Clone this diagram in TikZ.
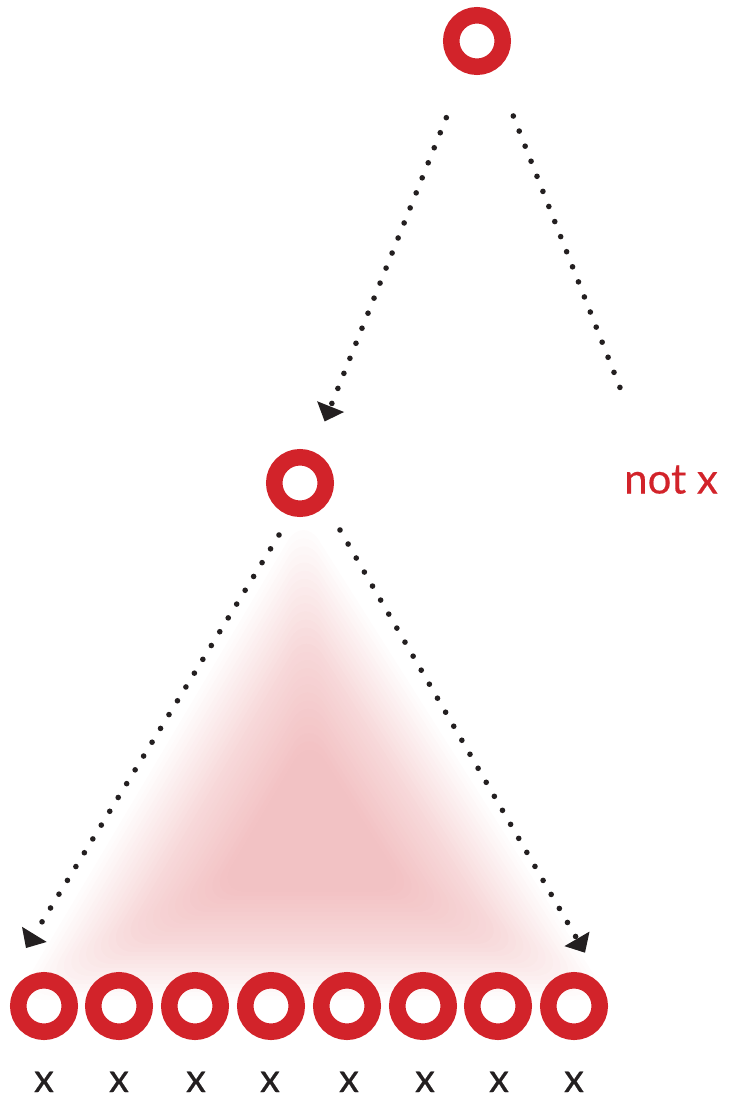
\documentclass[tikz,border=0pt]{standalone}
\usepackage{fontspec}
\setmainfont{Lato}[FakeBold=0.4]
\usetikzlibrary{arrows.meta,calc}
\definecolor{ringred}{HTML}{D2232A}
\definecolor{inkblack}{HTML}{231F20}
\begin{document}
\begin{tikzpicture}[x=1pt,y=-1pt,
  ring/.style={circle,draw=ringred,line width=16.5pt,minimum size=51.5pt,inner sep=0pt,outer sep=0pt},
  dotline/.style={draw=inkblack,line width=5.6pt,line cap=round,dash pattern=on 0pt off 16.2pt},
  arrowend/.style={-{Triangle[length=16pt,width=29pt,line width=0pt]}},
  lbl/.style={font=\fontsize{40}{40}\selectfont,text=inkblack,anchor=base,inner sep=0pt}]
\useasboundingbox (0,0) rectangle (730,1103);
% soft pink triangle
\coordinate (G) at (312,840);
\coordinate (TA) at (303,515);
\coordinate (TB) at (15,1000);
\coordinate (TC) at (610,1000);
\foreach \k in {0,...,27}{
  \pgfmathsetmacro\s{1-\k*0.025}
  \fill[ringred,fill opacity=0.013,rounded corners=30pt] ($(G)!\s!(TA)$) -- ($(G)!\s!(TB)$) -- ($(G)!\s!(TC)$) -- cycle;
}
% nodes
\node[ring] (top) at (477,41) {};
\node[ring] (mid) at (300,483) {};
\node[ring] (b1) at (44,1006) {};
\node[ring] (b2) at (119,1006) {};
\node[ring] (b3) at (195,1006) {};
\node[ring] (b4) at (271,1006) {};
\node[ring] (b5) at (347,1006) {};
\node[ring] (b6) at (423,1006) {};
\node[ring] (b7) at (498,1006) {};
\node[ring] (b8) at (574,1006) {};
\node[lbl] (x1) at (44,1092) {x};
\node[lbl] (x2) at (119,1092) {x};
\node[lbl] (x3) at (196,1092) {x};
\node[lbl] (x4) at (270,1092) {x};
\node[lbl] (x5) at (349,1092) {x};
\node[lbl] (x6) at (425,1092) {x};
\node[lbl] (x7) at (499,1092) {x};
\node[lbl] (x8) at (574,1092) {x};
\node[lbl,text=ringred,font=\fontsize{42}{42}\selectfont] (notx) at (671,493.5) {not x};
% connectors
\draw[dotline,arrowend,shorten <=56.85pt,shorten >=40.55pt] (top) -- (mid);
\coordinate (rs) at (513.3,116);
\coordinate (re) at (623.3,396);
\draw[dotline] (rs) -- (re);
\coordinate (ls) at (279,535);
\coordinate (le) at (26,948);
\draw[dotline,arrowend] (ls) -- (le);
\coordinate (ms) at (340,530);
\coordinate (me) at (585,952.7);
\draw[dotline,arrowend] (ms) -- (me);
\end{tikzpicture}
\end{document}
